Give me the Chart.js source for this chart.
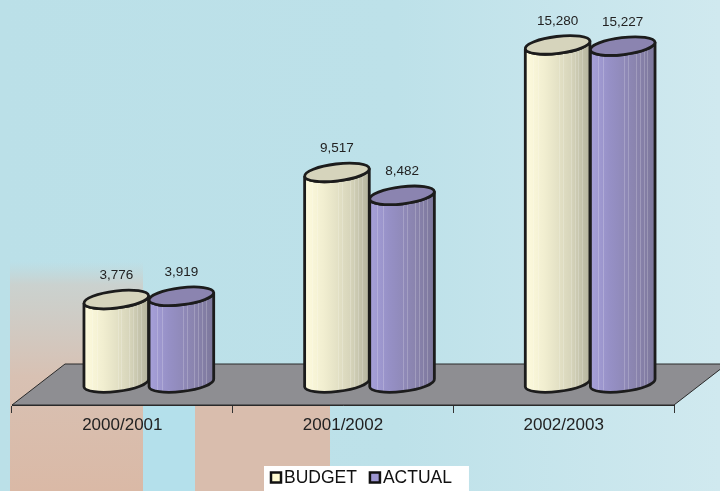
<!DOCTYPE html>
<html>
<head>
<meta charset="utf-8">
<script src="https://cdn.jsdelivr.net/npm/chart.js"></script>
<style>
  html, body { margin: 0; padding: 0; background: #bbe0e8; }
  #wrap { width: 720px; height: 491px; }
</style>
</head>
<body>
<div id="wrap"><canvas id="myChart" width="720" height="491"></canvas></div>
<script>
const categories = ['2000/2001', '2001/2002', '2002/2003'];
const budget = [3776, 9517, 15280];
const actual = [3919, 8482, 15227];
const seriesNames = ['BUDGET', 'ACTUAL'];

const FONT = '"Liberation Sans", Arial, sans-serif';

// colours for the cylinder faces
const faces = [
    { key: '#fffbd2', body: ['#fefbde', '#f1eed0', '#d7d5bb', '#b4b39e'], top: '#d6d4bc' },
    { key: '#9c95d0', body: ['#a7a1da', '#9690c6', '#8a84ae', '#7c779b'], top: '#8b84b0' }
];

// floor depth (back edge offset from the axis line)
const depthX = 53, depthY = 41;

function bodyPath(ctx, cx, top, bottom, rx, ry, rot) {
    const ex = rx * Math.cos(rot), ey = rx * Math.sin(rot);
    ctx.beginPath();
    ctx.moveTo(cx - ex, top - ey);
    ctx.lineTo(cx - ex, bottom - ey);
    ctx.ellipse(cx, bottom, rx, ry, rot, Math.PI, 0, true);
    ctx.lineTo(cx + ex, top + ey);
    ctx.ellipse(cx, top, rx, ry, rot, 0, Math.PI, false);
    ctx.closePath();
}

function cylinder(ctx, cx, top, bottom, w, face) {
    const rx = w / 2, ry = 8.5, rot = -0.12;

    const g = ctx.createLinearGradient(cx - rx, 0, cx + rx, 0);
    g.addColorStop(0, face.body[0]);
    g.addColorStop(0.3, face.body[1]);
    g.addColorStop(0.7, face.body[2]);
    g.addColorStop(1, face.body[3]);

    bodyPath(ctx, cx, top, bottom, rx, ry, rot);
    ctx.fillStyle = g;
    ctx.fill();

    // faint vertical streaks
    ctx.save();
    ctx.clip();
    ctx.strokeStyle = 'rgba(255,255,255,0.2)';
    ctx.lineWidth = 1;
    [0.12, 0.2, 0.52, 0.58, 0.7, 0.76, 0.82, 0.88].forEach(function (f) {
        const x = Math.round(cx - rx + f * w) + 0.5;
        ctx.beginPath();
        ctx.moveTo(x, top);
        ctx.lineTo(x, bottom + ry);
        ctx.stroke();
    });
    ctx.restore();

    bodyPath(ctx, cx, top, bottom, rx, ry, rot);
    ctx.strokeStyle = '#1c1c1c';
    ctx.lineWidth = 2.8;
    ctx.stroke();

    ctx.beginPath();
    ctx.ellipse(cx, top, rx, ry, rot, 0, Math.PI * 2);
    ctx.fillStyle = face.top;
    ctx.fill();
    ctx.stroke();
}

const scene = {
    id: 'scene',
    beforeDraw(chart) {
        const ctx = chart.ctx;
        const W = chart.width, H = chart.height;
        ctx.save();
        // background
        let g = ctx.createLinearGradient(0, 0, W, 0);
        g.addColorStop(0, '#bbe0e8');
        g.addColorStop(0.55, '#bde1e9');
        g.addColorStop(1, '#d0e9ef');
        ctx.fillStyle = g;
        ctx.fillRect(0, 0, W, H);

        // pink panels lower left
        g = ctx.createLinearGradient(0, 262, 0, H);
        g.addColorStop(0, 'rgba(200,210,208,0)');
        g.addColorStop(0.1, 'rgba(204,208,204,0.9)');
        g.addColorStop(0.5, '#d8c1b3');
        g.addColorStop(1, '#dab9a6');
        ctx.fillStyle = g;
        ctx.fillRect(10, 262, 133, H - 262);
        ctx.fillStyle = '#b4e0eb';
        ctx.fillRect(143, 390, 52, H - 390);
        ctx.fillStyle = '#d9bdad';
        ctx.fillRect(195, 395, 135, H - 395);

        // floor
        const a = chart.chartArea;
        const yb = a.bottom;
        ctx.beginPath();
        ctx.moveTo(a.left, yb);
        ctx.lineTo(a.right, yb);
        ctx.lineTo(a.right + depthX, yb - depthY);
        ctx.lineTo(a.left + depthX, yb - depthY);
        ctx.closePath();
        ctx.fillStyle = '#8e8e92';
        ctx.fill();
        ctx.strokeStyle = '#2a2a2a';
        ctx.lineWidth = 1;
        ctx.stroke();
        ctx.restore();
    },
    beforeDatasetDraw() {
        return false;
    },
    afterDatasetsDraw(chart) {
        const ctx = chart.ctx;
        const dx = depthX / 2, dy = -22;
        ctx.save();
        chart.data.datasets.forEach(function (ds, di) {
            const meta = chart.getDatasetMeta(di);
            meta.data.forEach(function (bar, i) {
                const p = bar.getProps(['x', 'y', 'base', 'width'], true);
                const cx = p.x + dx;
                cylinder(ctx, cx, p.y + dy, p.base + dy, p.width, faces[di]);
                ctx.fillStyle = '#222';
                ctx.font = '13.5px ' + FONT;
                ctx.textAlign = 'center';
                ctx.textBaseline = 'middle';
                ctx.fillText(ds.data[i].toLocaleString('en-US'), cx, p.y + dy - 24);
            });
        });
        ctx.restore();
    },
    afterDraw(chart) {
        // legend in a white panel under the axis
        const ctx = chart.ctx;
        const H = chart.height;
        ctx.save();
        ctx.font = '17.5px ' + FONT;
        ctx.textBaseline = 'middle';
        ctx.textAlign = 'left';
        let x = 271;
        const items = chart.data.datasets.map(function (ds, di) {
            const w = ctx.measureText(ds.label).width;
            const it = { x: x, label: ds.label, fill: faces[di].key };
            x += 11 + 3 + w + 12;
            return it;
        });
        ctx.fillStyle = '#ffffff';
        ctx.fillRect(264, 466, x - 264 + 4, H - 466);
        items.forEach(function (it) {
            ctx.fillStyle = it.fill;
            ctx.fillRect(it.x, 472.5, 10, 10);
            ctx.strokeStyle = '#111';
            ctx.lineWidth = 2.5;
            ctx.strokeRect(it.x, 472.5, 10, 10);
            ctx.fillStyle = '#111';
            ctx.fillText(it.label, it.x + 13, 478.5);
        });
        ctx.restore();
    }
};

const ctx = document.getElementById('myChart').getContext('2d');
const myChart = new Chart(ctx, {
    type: 'bar',
    data: {
        labels: categories,
        datasets: [{
            label: seriesNames[0],
            data: budget,
            backgroundColor: faces[0].key,
            borderColor: '#111111',
            borderWidth: 2,
            categoryPercentage: 0.59,
            barPercentage: 1
        }, {
            label: seriesNames[1],
            data: actual,
            backgroundColor: faces[1].key,
            borderColor: '#111111',
            borderWidth: 2,
            categoryPercentage: 0.59,
            barPercentage: 1
        }]
    },
    options: {
        responsive: false,
        animation: false,
        devicePixelRatio: 1,
        layout: {
            padding: { top: 51, left: 12, right: 46, bottom: 28 }
        },
        scales: {
            x: {
                grid: {
                    display: true,
                    drawOnChartArea: false,
                    color: '#333333',
                    tickLength: 8,
                    offset: true
                },
                border: { color: '#2a2a2a', width: 1 },
                ticks: {
                    color: '#222222',
                    padding: 2,
                    font: { size: 17, family: FONT }
                },
                afterFit(scale) {
                    // leave a gap between the category labels and the legend
                    scale.height = 58;
                }
            },
            y: {
                display: false,
                min: 0,
                max: 16000
            }
        },
        plugins: {
            legend: { display: false },
            tooltip: { enabled: false }
        }
    },
    plugins: [scene]
});
</script>
</body>
</html>
